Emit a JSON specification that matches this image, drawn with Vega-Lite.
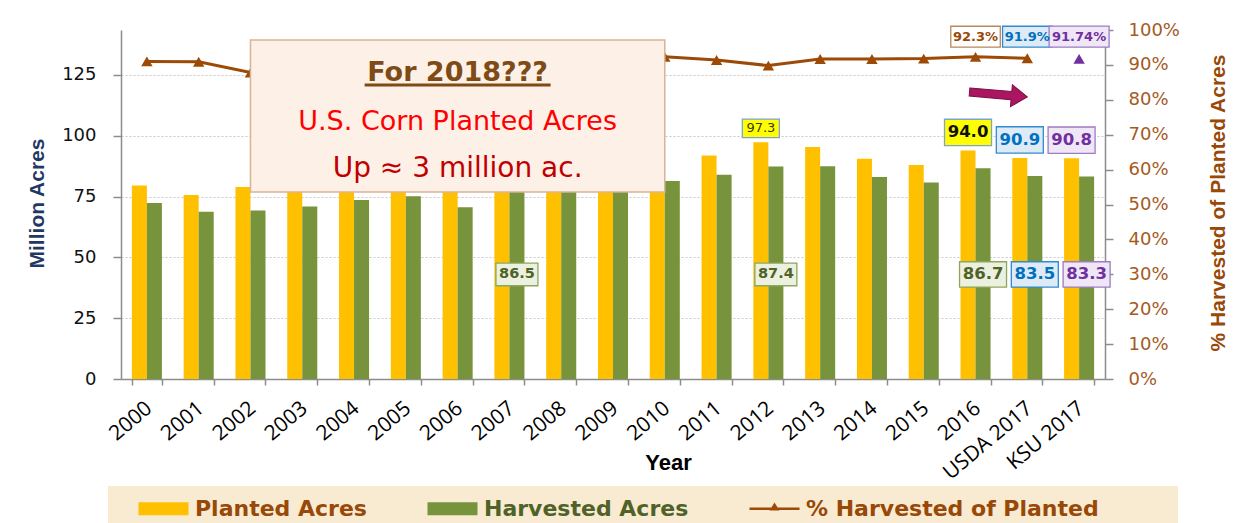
{
  "$schema": "https://vega.github.io/schema/vega-lite/v6.json",
  "width": 984,
  "height": 349,
  "autosize": {"type": "none"},
  "padding": {"left": 121, "top": 30, "right": 130, "bottom": 144},
  "background": "white",
  "config": {"view": {"stroke": null}, "axisRight": {"labelOverlap": false, "tickCount": 11}},
  "data": {"values": [
    {"year": "2000", "Planted Acres": 79.6, "Harvested Acres": 72.4, "pct": 0.910},
    {"year": "2001", "Planted Acres": 75.7, "Harvested Acres": 68.8, "pct": 0.909},
    {"year": "2002", "Planted Acres": 78.9, "Harvested Acres": 69.3, "pct": 0.878},
    {"year": "2003", "Planted Acres": 78.6, "Harvested Acres": 70.9, "pct": 0.902},
    {"year": "2004", "Planted Acres": 80.9, "Harvested Acres": 73.6, "pct": 0.910},
    {"year": "2005", "Planted Acres": 81.8, "Harvested Acres": 75.1, "pct": 0.918},
    {"year": "2006", "Planted Acres": 78.3, "Harvested Acres": 70.6, "pct": 0.902},
    {"year": "2007", "Planted Acres": 93.5, "Harvested Acres": 86.5, "pct": 0.925},
    {"year": "2008", "Planted Acres": 86.0, "Harvested Acres": 78.6, "pct": 0.914},
    {"year": "2009", "Planted Acres": 86.4, "Harvested Acres": 79.5, "pct": 0.920},
    {"year": "2010", "Planted Acres": 88.2, "Harvested Acres": 81.4, "pct": 0.923},
    {"year": "2011", "Planted Acres": 91.9, "Harvested Acres": 84.0, "pct": 0.914},
    {"year": "2012", "Planted Acres": 97.3, "Harvested Acres": 87.4, "pct": 0.898},
    {"year": "2013", "Planted Acres": 95.4, "Harvested Acres": 87.5, "pct": 0.917},
    {"year": "2014", "Planted Acres": 90.6, "Harvested Acres": 83.1, "pct": 0.917},
    {"year": "2015", "Planted Acres": 88.0, "Harvested Acres": 80.8, "pct": 0.918},
    {"year": "2016", "Planted Acres": 94.0, "Harvested Acres": 86.7, "pct": 0.923},
    {"year": "USDA 2017", "Planted Acres": 90.9, "Harvested Acres": 83.5, "pct": 0.919},
    {"year": "KSU 2017", "Planted Acres": 90.8, "Harvested Acres": 83.3, "pct": 0.9174}
  ]},
  "resolve": {"scale": {"y": "independent"}},
  "layer": [
    {
      "layer": [
        {
          "transform": [{"fold": ["Planted Acres", "Harvested Acres"], "as": ["series", "acres"]}],
          "mark": {"type": "bar"},
          "encoding": {
            "x": {
              "field": "year", "type": "nominal",
              "scale": {"domain": ["2000","2001","2002","2003","2004","2005","2006","2007","2008","2009","2010","2011","2012","2013","2014","2015","2016","USDA 2017","KSU 2017"], "paddingInner": 0.42, "paddingOuter": 0.21},
              "axis": {
                "labelAngle": -40, "labelAlign": "right", "labelBaseline": "top", "labelOffset": -5, "labelPadding": 12,
                "labelFont": "Open Sans", "labelFontSize": 21, "labelColor": "#000000", "labelOverlap": false, "labelBound": false,
                "tickBand": "extent", "tickSize": 6, "tickColor": "#8C8C8C", "tickWidth": 1.5,
                "domainColor": "#8C8C8C", "domainWidth": 1.5,
                "title": "Year", "titleFont": "Liberation Sans", "titleFontSize": 22, "titleFontWeight": "bold", "titleColor": "#000000",
                "titleX": 547, "titleY": 73, "titleBaseline": "top", "titleAlign": "center"
              }
            },
            "xOffset": {"field": "series", "type": "nominal", "scale": {"domain": ["Planted Acres", "Harvested Acres"]}},
            "y": {
              "field": "acres", "type": "quantitative",
              "scale": {"domain": [0, 143.5], "nice": false, "zero": true},
              "axis": {
                "orient": "left", "values": [0, 25, 50, 75, 100, 125], "labelOverlap": false,
                "grid": true, "gridColor": "#C8C8C8", "gridDash": [2, 2], "gridWidth": 1,
                "domainColor": "#8C8C8C", "domainWidth": 1.5, "tickColor": "#8C8C8C", "tickSize": 8, "tickWidth": 1.5,
                "labelFont": "DejaVu Sans", "labelFontSize": 18, "labelColor": "#111111", "labelPadding": 17,
                "title": "Million Acres", "titleFont": "Liberation Sans", "titleFontSize": 21, "titleFontWeight": "bold", "titleColor": "#1F3864",
                "titleX": -78, "titleY": 173, "titleAngle": 270, "titleAlign": "center", "titleBaseline": "alphabetic"
              }
            },
            "color": {
              "field": "series", "type": "nominal",
              "scale": {"domain": ["Planted Acres", "Harvested Acres", "% Harvested of Planted"], "range": ["#FFC000", "#77933C", "#9C4A06"]},
              "legend": {
                "orient": "none", "legendX": -13, "legendY": 456, "direction": "horizontal",
                "title": "\u2800", "titleOrient": "left", "titlePadding": 15, "titleFontSize": 22, "titleFont": "DejaVu Sans",
                "fillColor": "#F8EBD2", "padding": 10,
                "symbolType": "M-2,-0.52H2V0.52H-2Z", "symbolSize": 625, "symbolStrokeWidth": 0, "symbolOpacity": 1,
                "labelFont": "DejaVu Sans", "labelFontSize": 22, "labelFontWeight": "bold", "labelOffset": 19, "labelLimit": 800,
                "columnPadding": 60,
                "labelExpr": "datum.label === '% Harvested of Planted' ? datum.label + '\u2800\u2800\u2800\u2800' : datum.label",
                "encode": {
                  "symbols": {"update": {"shape": {"signal": "datum.label === '% Harvested of Planted' ? 'M-2,-0.1H2V0.1H-2Z M-0.4,0.14L0,-0.5L0.4,0.14Z' : 'M-2,-0.52H2V0.52H-2Z'"}}},
                  "labels": {"update": {"fill": {"signal": "datum.label === 'Harvested Acres' ? '#4F6228' : '#984807'"}}}
                }
              }
            }
          }
        },
        {
          "transform": [{"filter": {"field": "year", "oneOf": ["2007", "2012", "2016", "USDA 2017", "KSU 2017"]}}],
          "mark": {"type": "point", "shape": "M-1,-0.54H1V0.54H-1Z", "filled": true, "opacity": 1, "strokeWidth": 1.3},
          "encoding": {
            "x": {"field": "year", "type": "nominal"},
            "xOffset": {"datum": "Harvested Acres", "type": "nominal", "scale": {"domain": ["Planted Acres", "Harvested Acres"]}},
            "y": {"datum": 43, "type": "quantitative"},
            "size": {"condition": {"test": "datum.year === '2007' || datum.year === '2012'", "value": 1764}, "value": 2209},
            "fill": {"condition": [{"test": "datum.year === 'USDA 2017'", "value": "#DEEBF7"}, {"test": "datum.year === 'KSU 2017'", "value": "#EFE6F6"}], "value": "#EBF1DE"},
            "stroke": {"condition": [{"test": "datum.year === 'USDA 2017'", "value": "#2E8BD0"}, {"test": "datum.year === 'KSU 2017'", "value": "#9E7BC4"}], "value": "#8EA65C"}
          }
        },
        {
          "transform": [{"filter": {"field": "year", "oneOf": ["2007", "2012", "2016", "USDA 2017", "KSU 2017"]}}],
          "mark": {"type": "text", "font": "DejaVu Sans", "fontWeight": "bold", "baseline": "middle", "align": "center"},
          "encoding": {
            "x": {"field": "year", "type": "nominal"},
            "xOffset": {"datum": "Harvested Acres", "type": "nominal", "scale": {"domain": ["Planted Acres", "Harvested Acres"]}},
            "y": {"datum": 43, "type": "quantitative"},
            "text": {"field": "Harvested Acres", "type": "quantitative", "format": ".1f"},
            "size": {"condition": {"test": "datum.year === '2007' || datum.year === '2012'", "value": 14.5}, "value": 16.5},
            "color": {"condition": [{"test": "datum.year === 'USDA 2017'", "value": "#0070C0"}, {"test": "datum.year === 'KSU 2017'", "value": "#7030A0"}], "value": "#4F6228"}
          }
        },
        {
          "transform": [{"filter": {"field": "year", "oneOf": ["2016", "USDA 2017", "KSU 2017"]}}],
          "mark": {"type": "point", "shape": "M-1,-0.56H1V0.56H-1Z", "filled": true, "opacity": 1, "strokeWidth": 1.3},
          "encoding": {
            "x": {"field": "year", "type": "nominal"},
            "xOffset": {"datum": "Planted Acres", "type": "nominal", "scale": {"domain": ["Planted Acres", "Harvested Acres"]}},
            "y": {"field": "Planted Acres", "type": "quantitative"},
            "yOffset": {"value": -18},
            "size": {"value": 2209},
            "fill": {"condition": [{"test": "datum.year === 'USDA 2017'", "value": "#DEEBF7"}, {"test": "datum.year === 'KSU 2017'", "value": "#EFE6F6"}], "value": "#FFFF00"},
            "stroke": {"condition": [{"test": "datum.year === 'USDA 2017'", "value": "#2E8BD0"}, {"test": "datum.year === 'KSU 2017'", "value": "#9E7BC4"}], "value": "#7FA3D0"}
          }
        },
        {
          "transform": [{"filter": {"field": "year", "oneOf": ["2016", "USDA 2017", "KSU 2017"]}}],
          "mark": {"type": "text", "font": "DejaVu Sans", "fontWeight": "bold", "fontSize": 16.5, "baseline": "middle", "align": "center"},
          "encoding": {
            "x": {"field": "year", "type": "nominal"},
            "xOffset": {"datum": "Planted Acres", "type": "nominal", "scale": {"domain": ["Planted Acres", "Harvested Acres"]}},
            "y": {"field": "Planted Acres", "type": "quantitative"},
            "yOffset": {"value": -18},
            "text": {"field": "Planted Acres", "type": "quantitative", "format": ".1f"},
            "color": {"condition": [{"test": "datum.year === 'USDA 2017'", "value": "#0070C0"}, {"test": "datum.year === 'KSU 2017'", "value": "#7030A0"}], "value": "#111111"}
          }
        },
        {
          "transform": [{"filter": {"field": "year", "equal": "2012"}}],
          "mark": {"type": "point", "shape": "M-1,-0.5H1V0.5H-1Z", "filled": true, "opacity": 1, "strokeWidth": 1.3, "fill": "#FFFF00", "stroke": "#7FA3D0", "size": 1369},
          "encoding": {
            "x": {"field": "year", "type": "nominal"},
            "xOffset": {"datum": "Planted Acres", "type": "nominal", "scale": {"domain": ["Planted Acres", "Harvested Acres"]}},
            "y": {"field": "Planted Acres", "type": "quantitative"},
            "yOffset": {"value": -14}
          }
        },
        {
          "transform": [{"filter": {"field": "year", "equal": "2012"}}],
          "mark": {"type": "text", "font": "DejaVu Sans", "fontSize": 13, "baseline": "middle", "align": "center", "color": "#3A3A10"},
          "encoding": {
            "x": {"field": "year", "type": "nominal"},
            "xOffset": {"datum": "Planted Acres", "type": "nominal", "scale": {"domain": ["Planted Acres", "Harvested Acres"]}},
            "y": {"field": "Planted Acres", "type": "quantitative"},
            "yOffset": {"value": -14},
            "text": {"field": "Planted Acres", "type": "quantitative", "format": ".1f"}
          }
        }
      ]
    },
    {
      "layer": [
        {
          "transform": [{"filter": "datum.year !== 'KSU 2017'"}],
          "mark": {"type": "line", "color": "#9C4A06", "strokeWidth": 3, "point": {"shape": "triangle-up", "size": 130, "filled": true, "color": "#9C4A06", "opacity": 1}},
          "encoding": {
            "x": {"field": "year", "type": "nominal"},
            "y": {
              "field": "pct", "type": "quantitative",
              "scale": {"domain": [0, 1], "nice": false, "zero": true},
              "axis": {
                "orient": "right", "values": [0, 0.1, 0.2, 0.3, 0.4, 0.5, 0.6, 0.7, 0.8, 0.9, 1], "tickCount": 11, "format": ".0%", "grid": false, "labelOverlap": false,
                "domainColor": "#8C8C8C", "domainWidth": 1.5, "tickColor": "#8C8C8C", "tickSize": 8, "tickWidth": 1.5,
                "labelFont": "DejaVu Sans", "labelFontSize": 18, "labelColor": "#A65A1E", "labelPadding": 15,
                "title": "% Harvested of Planted Acres", "titleFont": "Liberation Sans", "titleFontSize": 21, "titleFontWeight": "bold", "titleColor": "#984807",
                "titleX": 119, "titleY": 172.5, "titleAngle": 270, "titleAlign": "center", "titleBaseline": "alphabetic"
              }
            }
          }
        },
        {
          "transform": [{"filter": {"field": "year", "equal": "KSU 2017"}}],
          "mark": {"type": "point", "shape": "triangle-up", "size": 130, "filled": true, "color": "#7030A0", "opacity": 1},
          "encoding": {
            "x": {"field": "year", "type": "nominal"},
            "y": {"field": "pct", "type": "quantitative"}
          }
        },
        {
          "transform": [{"filter": {"field": "year", "oneOf": ["2016", "USDA 2017", "KSU 2017"]}}],
          "mark": {"type": "point", "filled": true, "opacity": 1, "strokeWidth": 1.3},
          "encoding": {
            "x": {"field": "year", "type": "nominal"},
            "y": {"datum": 0.981, "type": "quantitative"},
            "shape": {"condition": {"test": "datum.year === 'KSU 2017'", "value": "M-1,-0.35H1V0.35H-1Z"}, "value": "M-1,-0.42H1V0.42H-1Z"},
            "size": {"condition": {"test": "datum.year === 'KSU 2017'", "value": 3600}, "value": 2450},
            "fill": {"condition": [{"test": "datum.year === 'USDA 2017'", "value": "#DEEBF7"}, {"test": "datum.year === 'KSU 2017'", "value": "#EFE6F6"}], "value": "#FFFFFF"},
            "stroke": {"condition": [{"test": "datum.year === 'USDA 2017'", "value": "#2E8BD0"}, {"test": "datum.year === 'KSU 2017'", "value": "#9E7BC4"}], "value": "#B9875A"}
          }
        },
        {
          "transform": [{"filter": {"field": "year", "oneOf": ["2016", "USDA 2017", "KSU 2017"]}}],
          "mark": {"type": "text", "font": "DejaVu Sans", "fontWeight": "bold", "fontSize": 13, "baseline": "middle", "align": "center"},
          "encoding": {
            "x": {"field": "year", "type": "nominal"},
            "y": {"datum": 0.981, "type": "quantitative"},
            "text": {"condition": {"test": "datum.year === 'KSU 2017'", "field": "pct", "type": "quantitative", "format": ".2%"}, "field": "pct", "type": "quantitative", "format": ".1%"},
            "color": {"condition": [{"test": "datum.year === 'USDA 2017'", "value": "#0070C0"}, {"test": "datum.year === 'KSU 2017'", "value": "#7030A0"}], "value": "#984807"}
          }
        },
        {
          "data": {"values": [{"note": "arrow"}]},
          "mark": {"type": "point", "shape": "M-2,-0.14L-0.55,-0.14L-0.55,-0.38L0,0L-0.55,0.38L-0.55,0.14L-2,0.14Z", "size": 3364, "angle": 5, "filled": true, "opacity": 1, "fill": "#AA1660", "stroke": "#7A0F45", "strokeWidth": 1},
          "encoding": {
            "x": {"datum": "USDA 2017", "type": "nominal"},
            "y": {"datum": 0.808, "type": "quantitative"}
          }
        }
      ]
    },
    {
      "data": {"values": [{"note": "box"}]},
      "layer": [
        {
          "mark": {"type": "rect", "fill": "#FDF1E7", "stroke": "#D8B497", "strokeWidth": 1.5},
          "encoding": {
            "x": {"datum": "2002", "type": "nominal"},
            "x2": {"datum": "2010"},
            "y": {"datum": 139.4, "type": "quantitative", "scale": {"domain": [0, 143.5], "nice": false}, "axis": null},
            "y2": {"datum": 76.9}
          }
        },
        {
          "mark": {"type": "tick", "orient": "horizontal", "thickness": 3, "color": "#7E4B16", "opacity": 1},
          "encoding": {
            "x": {"datum": "2006", "type": "nominal"},
            "y": {"datum": 120.9, "type": "quantitative", "axis": null},
            "size": {"value": 186}
          }
        },
        {
          "mark": {"type": "text", "font": "DejaVu Sans", "fontWeight": "bold", "fontSize": 27, "color": "#7E4B16", "align": "center", "baseline": "alphabetic"},
          "encoding": {
            "x": {"datum": "2006", "type": "nominal"},
            "y": {"datum": 122.7, "type": "quantitative", "axis": null},
            "text": {"value": "For 2018???"}
          }
        },
        {
          "mark": {"type": "text", "font": "DejaVu Sans", "fontSize": 27, "color": "#FF0000", "align": "center", "baseline": "alphabetic"},
          "encoding": {
            "x": {"datum": "2006", "type": "nominal"},
            "y": {"datum": 102.4, "type": "quantitative", "axis": null},
            "text": {"value": "U.S. Corn Planted Acres"}
          }
        },
        {
          "mark": {"type": "text", "font": "DejaVu Sans", "fontSize": 28, "color": "#C00000", "align": "center", "baseline": "alphabetic"},
          "encoding": {
            "x": {"datum": "2006", "type": "nominal"},
            "y": {"datum": 83.2, "type": "quantitative", "axis": null},
            "text": {"value": "Up ≈ 3 million ac."}
          }
        }
      ]
    }
  ]
}
